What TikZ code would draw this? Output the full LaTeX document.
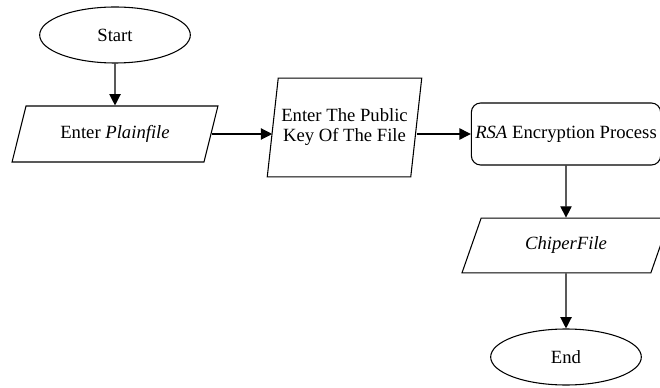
\documentclass[tikz,border=0pt]{standalone}
\usepackage{fontspec}
\setmainfont{Liberation Serif}
\usetikzlibrary{arrows.meta,shapes.geometric}

\begin{document}
\begin{tikzpicture}[x=0.75pt,y=-0.75pt,font=\fontsize{14}{15}\selectfont,
  terminal/.style={draw, ellipse, line width=0.8pt, inner sep=0pt, minimum width=113pt, minimum height=42pt},
  io/.style={draw, trapezium, trapezium stretches=true, line width=0.8pt, inner sep=0pt, align=center},
  process/.style={draw, rectangle, rounded corners=7pt, line width=0.8pt, inner sep=0pt, minimum width=142pt, minimum height=46.5pt},
  flow/.style={line width=0.9pt, -{Triangle[length=8.5pt,width=8.5pt]}}]
  \useasboundingbox (0,0) rectangle (660,388);
  % left column
  \node[terminal] (start) at (115,35) {Start};
  \node[io, trapezium left angle=63.4, trapezium right angle=116.6,
        minimum width=155pt, minimum height=42pt] (plain) at (115,134) {Enter \textit{Plainfile}};
  % middle
  \node[io, trapezium left angle=74.2, trapezium right angle=105.8,
        minimum width=116pt, minimum height=74pt] (pubkey) at (344.5,127.5) {Enter The Public\\Key Of The File};
  % right column
  \node[process] (rsa) at (566,134) {\textit{RSA} Encryption Process};
  \node[io, trapezium left angle=61.4, trapezium right angle=118.6,
        minimum width=157pt, minimum height=41pt] (cipher) at (566,245.5) {\textit{ChiperFile}};
  \node[terminal] (end) at (566,357) {End};
  % connectors
  \draw[flow] (start.south) -- (plain.north);
  \draw[flow] (plain.east) -- (plain.east -| pubkey.west);
  \draw[flow] (rsa.west -| pubkey.east) -- (rsa.west);
  \draw[flow] (rsa.south) -- (cipher.north);
  \draw[flow] (cipher.south) -- (end.north);
\end{tikzpicture}
\end{document}
